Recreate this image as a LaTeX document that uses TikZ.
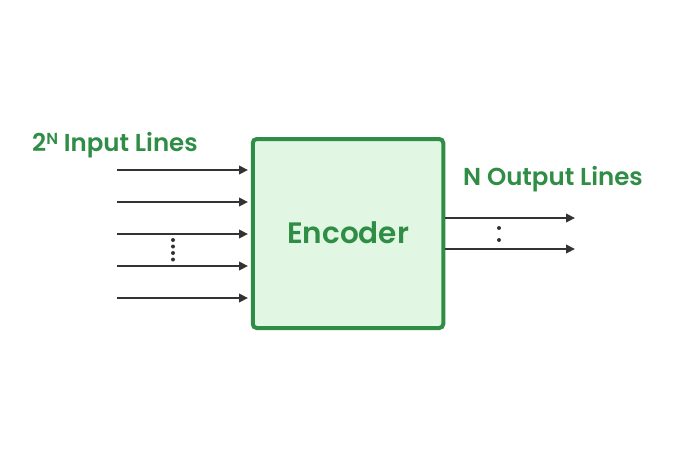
\documentclass[tikz,border=0pt]{standalone}
\usepackage{fontspec}
\setmainfont{Poppins}[BoldFont={Poppins SemiBold}]
\usetikzlibrary{arrows.meta}
\definecolor{gfgreen}{HTML}{2F8D46}
\definecolor{gffill}{HTML}{E2F7E3}
\definecolor{wirec}{HTML}{333333}
\newcommand{\supN}{\raisebox{6.5pt}{\fontsize{16}{16}\selectfont N}}
\tikzset{
  blockbox/.style={draw=gfgreen, fill=gffill, line width=4pt, rounded corners=4pt,
    minimum width=190.5pt, minimum height=189pt, text=gfgreen,
    font=\fontsize{29.5}{32}\selectfont\bfseries},
  linelabel/.style={anchor=base west, text=gfgreen, inner sep=0pt,
    font=\fontsize{24.5}{27}\selectfont\bfseries},
  wire/.style={draw=wirec, line width=2.8pt, -{Triangle[length=9pt,width=8.5pt]}},
  vdot/.style={fill=wirec, circle, inner sep=0pt, minimum size=4pt}
}
\begin{document}
\begin{tikzpicture}[x=1pt, y=-1pt]
  \useasboundingbox (0,0) rectangle (696,469);

  \node[blockbox] (enc) at (348,233.5) {\raisebox{1.5pt}{Encoder}};

  % input side
  \node[linelabel] (inlbl) at (32,151) {2\supN\ Input Lines};
  \foreach \i/\y in {1/170,2/202,3/234,4/266,5/298} {
    \coordinate (in\i) at (117,\y);
    \coordinate (inend\i) at (248,\y);
    \draw[wire] (in\i) -- (inend\i);
  }
  \foreach \y [count=\k] in {240,246.5,253,259.5}
    \node[vdot] (idot\k) at (173,\y) {};

  % output side
  \node[linelabel] (outlbl) at (463,185) {N Output Lines};
  \foreach \i/\y in {1/218,2/249} {
    \coordinate (out\i) at (575,\y);
    \draw[wire] (enc.east |- out\i) -- (out\i);
  }
  \foreach \y [count=\k] in {228,240}
    \node[vdot] (odot\k) at (499,\y) {};
\end{tikzpicture}
\end{document}
